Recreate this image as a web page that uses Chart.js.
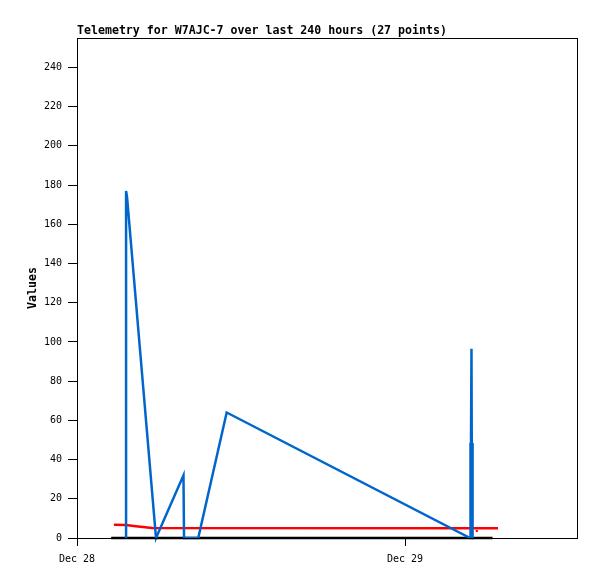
<!DOCTYPE html>
<html>
<head>
<meta charset="utf-8">
<script src="https://cdn.jsdelivr.net/npm/chart.js@4"></script>
<style>
html,body{margin:0;padding:0;background:#fff;}
#wrap{width:597px;height:579px;position:relative;}
</style>
</head>
<body>
<div id="wrap"><canvas id="c" width="597" height="579"></canvas></div>
<script>
const TITLE = "Telemetry for W7AJC-7 over last 240 hours (27 points)";
const Y_LABEL = "Values";
// x values are hours since Dec 28 00:00
const X_TICKS = [0, 24];
const X_TICK_LABELS = ["Dec 28", "Dec 29"];
const Y_TICKS = [0, 20, 40, 60, 80, 100, 120, 140, 160, 180, 200, 220, 240];

const blueHours  = [3.59, 3.59, 3.66, 5.78, 7.79, 7.83, 8.87, 10.95, 28.76, 28.78, 28.80, 28.86, 28.90, 28.93, 28.95];
const blueValues = [0,    177,  174,  0,    32,   0,    0,    64,    0,     48.5,  0,     96.5,  0,     48.5,  0];

const redHours  = [2.7, 3.6, 4.3, 5.5, 30.8];
const redValues = [6.8, 6.6, 6.0, 5.1, 5.0];

const red2Hours  = [29.25];
const red2Values = [3.6];

const blackHours  = [2.5, 30.4];
const blackValues = [0, 0];

function pts(xs, ys){ return xs.map((x,i)=>({x:x, y:ys[i]})); }

const boxPlugin = {
  id:'box',
  afterDraw(chart){
    const a = chart.chartArea, ctx = chart.ctx;
    ctx.save();
    ctx.strokeStyle = '#000';
    ctx.lineWidth = 1;
    ctx.strokeRect(Math.round(a.left)+0.5, Math.round(a.top)+0.5, Math.round(a.right-a.left), Math.round(a.bottom-a.top));
    ctx.fillStyle = '#000';
    ctx.font = 'bold 11.6px "DejaVu Sans Mono", monospace';
    ctx.textBaseline = 'alphabetic';
    ctx.textAlign = 'left';
    ctx.fillText(TITLE, a.left, a.top - 4);
    ctx.restore();
  }
};

const tickFont = {family:'"DejaVu Sans Mono", monospace', size:10};

new Chart(document.getElementById('c'), {
  type:'line',
  data:{
    datasets:[
      {data:pts(blueHours, blueValues), borderColor:'#0066cc', borderWidth:2.5, pointRadius:0, tension:0, clip:false},
      {data:pts(redHours, redValues), borderColor:'#ff0000', borderWidth:2.5, pointRadius:0, tension:0, clip:false},
      {data:pts(red2Hours, red2Values), borderColor:'#ff0000', backgroundColor:'#ff0000', showLine:false, pointStyle:'rect', pointRadius:1.5, borderWidth:0},
      {data:pts(blackHours, blackValues), borderColor:'#000000', borderWidth:2.5, pointRadius:0, tension:0, clip:false}
    ]
  },
  options:{
    responsive:false,
    animation:false,
    devicePixelRatio:1,
    layout:{padding:{top:38, right:20, left:0, bottom:0}},
    plugins:{legend:{display:false}, tooltip:{enabled:false}, title:{display:false}},
    scales:{
      x:{
        type:'linear', min:0, max:36.58,
        afterFit(s){ s.height = 41; },
        afterBuildTicks(s){ s.ticks = X_TICKS.map(v=>({value:v})); },
        ticks:{color:'#000', font:tickFont, padding:7, maxRotation:0, autoSkip:false,
          callback(v){ const i = X_TICKS.indexOf(v); return i>=0 ? X_TICK_LABELS[i] : ''; }},
        grid:{display:true, drawOnChartArea:false, drawTicks:true, tickLength:8, color:'#000', lineWidth:1},
        border:{display:true, color:'#000', width:1}
      },
      y:{
        type:'linear', min:0, max:255,
        afterFit(s){ s.width = 77; },
        afterBuildTicks(s){ s.ticks = Y_TICKS.map(v=>({value:v})); },
        ticks:{color:'#000', font:tickFont, padding:6, autoSkip:false},
        grid:{display:true, drawOnChartArea:false, drawTicks:true, tickLength:9, color:'#000', lineWidth:1},
        border:{display:true, color:'#000', width:1},
        title:{display:true, text:Y_LABEL, color:'#000', font:{family:'"DejaVu Sans Mono", monospace', size:11.6, weight:'bold'}, padding:{top:26, bottom:0}}
      }
    }
  },
  plugins:[boxPlugin]
});
</script>
</body>
</html>
